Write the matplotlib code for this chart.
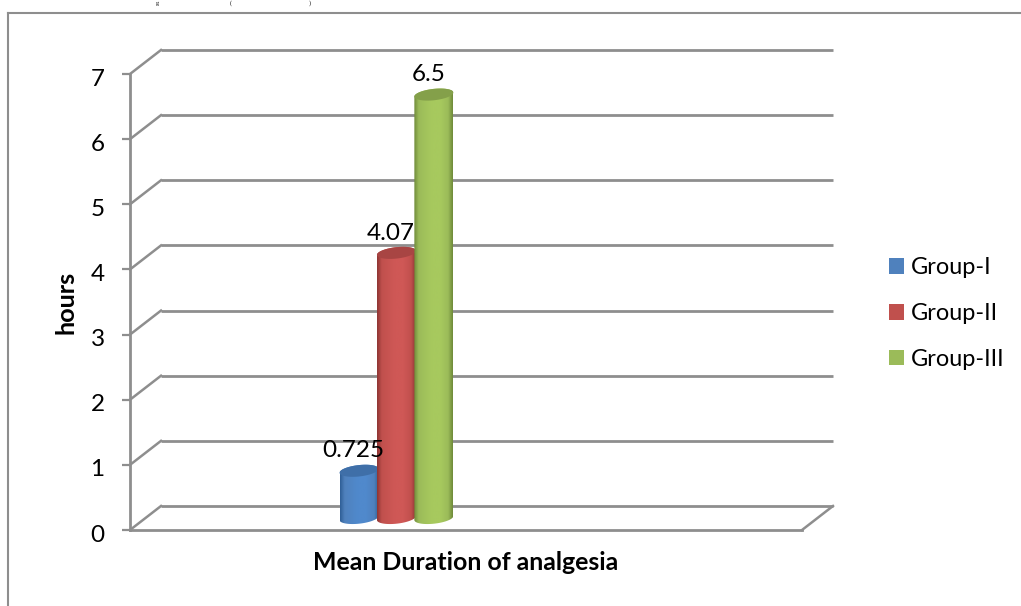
import numpy as np
import matplotlib
matplotlib.use("Agg")
import matplotlib.pyplot as plt
from matplotlib.colors import LinearSegmentedColormap
from matplotlib.patches import Polygon, Rectangle
from matplotlib.transforms import ScaledTranslation
from matplotlib.lines import Line2D

W, H = 1021, 606
category = "Mean Duration of analgesia"
groups = ["Group-I", "Group-II", "Group-III"]
values = [0.725, 4.07, 6.5]
value_labels = ["0.725", "4.07", "6.5"]
yticks = [0, 1, 2, 3, 4, 5, 6, 7]
y_label = "hours"
base_colors = ["#4F81BD", "#C0504D", "#9BBB59"]
side_dark = ["#2F5F96", "#8E3533", "#6F8A3A"]
mid_light = ["#5089CC", "#CF5856", "#A7C95E"]
top_colors = ["#3F6FA8", "#A84543", "#84A04A"]
cut_text = [("g", 156), ("(", 230), (")", 309)]

plt.rcParams["font.family"] = ["Lato", "DejaVu Sans"]
GRID = "#8E8E8E"
FS = 17.5

fig = plt.figure(figsize=(W / 100, H / 100), dpi=100)
L, R, T, B = 130, 802, 74, 530
ax = fig.add_axes([L / W, 1 - B / H, (R - L) / W, (B - T) / H])
ax.set_xlim(-0.5, 0.5)
ax.set_ylim(0, 7)
ax.patch.set_visible(False)
for s in ["top", "right"]:
    ax.spines[s].set_visible(False)
for s in ["left", "bottom"]:
    ax.spines[s].set_color(GRID)
    ax.spines[s].set_linewidth(2)
ax.set_yticks(yticks)
ax.tick_params(axis="y", length=5.8, width=1.6, color=GRID, labelsize=FS, pad=12.5, labelcolor="black")
down = ScaledTranslation(0, -3 / 100, fig.dpi_scale_trans)
for lbl in ax.get_yticklabels():
    lbl.set_transform(lbl.get_transform() + down)
ax.set_xticks([0])
ax.set_xticklabels([category], fontsize=17.9, fontweight="bold")
ax.tick_params(axis="x", length=0, pad=15.2)
ax.set_ylabel(y_label, fontsize=18.2, fontweight="bold")
ax.yaxis.set_label_coords(-0.078, 0.5)

ppx = (R - L)          # pixels per x data unit
ppy = (B - T) / 7      # pixels per y data unit
dx, dy = 31, 24        # full depth of the 3-D floor, in pixels

# back wall: floor edge, wall grid lines and connecting diagonals
back = ax.transData + ScaledTranslation(dx / 100, dy / 100, fig.dpi_scale_trans)
for v in yticks:
    ax.plot([-0.5, 0.5], [v, v], color=GRID, lw=2, transform=back, clip_on=False,
            solid_capstyle="butt", zorder=1)
    ax.plot([-0.5, -0.5 + dx / ppx], [v, v + dy / ppy], color=GRID, lw=1.8,
            clip_on=False, zorder=1)
ax.plot([0.5, 0.5 + dx / ppx], [0, dy / ppy], color=GRID, lw=1.8, clip_on=False, zorder=1)

# cylinders
bar_w = 39 / ppx
step = 37.4 / ppx
group_x = -0.1035
ry = 5.7 / ppy
rx = bar_w / 2
tilt = 2.0 / ppy
mid = ax.transData + ScaledTranslation(0, 12 / 100, fig.dpi_scale_trans)
t = np.linspace(0, 2 * np.pi, 90)
stops = [0.0, 0.12, 0.45, 0.68, 0.88, 1.0]
for i, (v, name) in enumerate(zip(values, groups)):
    cx = group_x + (i - 1) * step
    ex = cx + rx * np.cos(t)
    ey_off = ry * np.sin(t) + tilt * np.cos(t)
    lower = t[(t >= np.pi)]
    xl = cx + rx * np.cos(lower)
    yl = 0 + ry * np.sin(lower) + tilt * np.cos(lower)
    upper = t[t <= np.pi]
    xu = cx + rx * np.cos(upper)
    yu = v + ry * np.sin(upper) + tilt * np.cos(upper)
    body = np.column_stack([np.r_[xu, xl], np.r_[yu, yl]])
    cols = [side_dark[i], base_colors[i], mid_light[i], mid_light[i], base_colors[i], side_dark[i]]
    cmap = LinearSegmentedColormap.from_list(name, list(zip(stops, cols)))
    grad = np.linspace(0, 1, 128).reshape(1, -1)
    im = ax.imshow(grad, cmap=cmap, aspect="auto", origin="lower",
                   extent=(cx - rx, cx + rx, -ry * 2, v + ry * 2),
                   transform=mid, zorder=3 + i, interpolation="bilinear")
    clip = Polygon(body, closed=True, transform=mid, facecolor="none", edgecolor="none")
    ax.add_patch(clip)
    im.set_clip_path(clip)
    ax.add_patch(Polygon(np.column_stack([ex, v + ey_off]), closed=True, transform=mid,
                         facecolor=top_colors[i], edgecolor="none", zorder=3.5 + i, clip_on=False))
    ax.annotate(value_labels[i], xy=(cx, v), xycoords=mid, xytext=(-4.0, 9.6),
                textcoords="offset points", ha="center", va="baseline",
                fontsize=FS, color="black", zorder=10, annotation_clip=False)
ax.set_xlim(-0.5, 0.5)
ax.set_ylim(0, 7)

# legend
handles = [Rectangle((0, 0), 1, 1, facecolor=c, edgecolor="none") for c in base_colors]
fig.legend(handles, groups, loc="center left", bbox_to_anchor=(889 / W, 1 - 313.5 / H),
           frameon=False, fontsize=16.9, handlelength=0.65, handleheight=0.65,
           handletextpad=0.3, labelspacing=1.05, borderpad=0, borderaxespad=0)

# outer frame
fig.add_artist(Line2D([8 / W, 8 / W], [0, 1 - 13 / H], color=GRID, lw=1.5))
fig.add_artist(Line2D([8 / W, 1], [1 - 13 / H, 1 - 13 / H], color=GRID, lw=1.5))

# remnants of the document's text line along the top edge
for s, x in cut_text:
    fig.text(x / W, 1 - 0.5 / H, s, fontsize=4.5, family="Liberation Serif", ha="left", va="top")

fig.savefig("out.png", dpi=100)
